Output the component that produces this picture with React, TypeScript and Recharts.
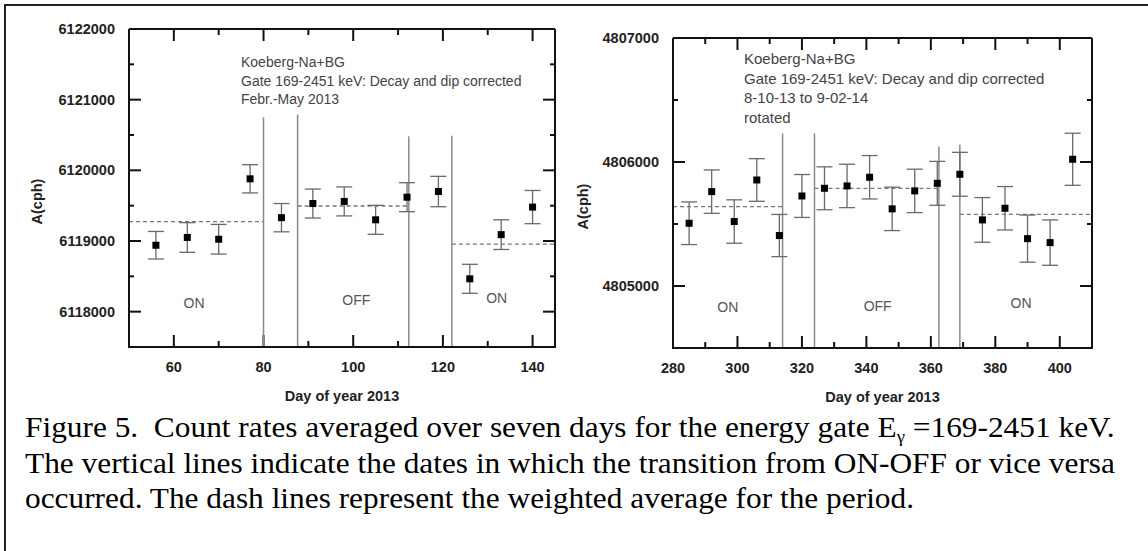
import React from "react";
import {
  ScatterChart,
  Scatter,
  XAxis,
  YAxis,
  ErrorBar,
  ReferenceLine,
  ReferenceDot,
  Label,
} from "recharts";

const SANS = "'Liberation Sans', Arial, sans-serif";
const SERIF = "'Liberation Serif', 'Times New Roman', serif";

// ---- left panel: Febr.-May 2013 ----
const LEFT_DAYS = [56, 63, 70, 77, 84, 91, 98, 105, 112, 119, 126, 133, 140];
const LEFT_RATES = [
  6118940, 6119050, 6119025, 6119880, 6119330, 6119530, 6119560, 6119300,
  6119620, 6119700, 6118465, 6119090, 6119480,
];
const LEFT_ERR = [195, 210, 210, 200, 200, 205, 205, 205, 205, 215, 205, 210, 235];
const LEFT_X_MAJOR = [60, 80, 100, 120, 140];
const LEFT_X_MINOR = [50, 70, 90, 110, 130];
const LEFT_Y_MAJOR = [6118000, 6119000, 6120000, 6121000, 6122000];
const LEFT_Y_MINOR = [6117500, 6118500, 6119500, 6120500, 6121500];
const LEFT_SWITCH_DAYS = [80, 87.6, 112.4, 122];
const LEFT_SWITCH_TOPS = [6120750, 6120790, 6120482, 6120490];
const LEFT_AVG_FROM = [50, 87.6, 122];
const LEFT_AVG_TO = [80, 112.4, 145];
const LEFT_AVG = [6119275, 6119495, 6118955];
const LEFT_STATES = ["ON", "OFF", "ON"];
const LEFT_STATE_DAYS = [64.5, 100.7, 132];
const LEFT_STATE_Y = [6118120, 6118170, 6118190];
const LEFT_NOTES = ["Koeberg-Na+BG", "Gate 169-2451 keV: Decay and dip corrected", "Febr.-May 2013"];

// ---- right panel: 8-10-13 to 9-02-14 ----
const RIGHT_DAYS = [285, 292, 299, 306, 313, 320, 327, 334, 341, 348, 355, 362, 369, 376, 383, 390, 397, 404];
const RIGHT_RATES = [
  4805506, 4805761, 4805520, 4805855, 4805407, 4805726, 4805788, 4805807, 4805877,
  4805622, 4805767, 4805828, 4805901, 4805533, 4805627, 4805382, 4805350, 4806022,
];
const RIGHT_ERR = [172, 175, 175, 172, 170, 173, 173, 175, 175, 175, 175, 177, 177, 180, 175, 190, 183, 210];
const RIGHT_X_MAJOR = [280, 300, 320, 340, 360, 380, 400];
const RIGHT_X_MINOR = [290, 310, 330, 350, 370, 390, 410];
const RIGHT_Y_MAJOR = [4805000, 4806000, 4807000];
const RIGHT_Y_MINOR = [4804500, 4805500, 4806500];
const RIGHT_SWITCH_DAYS = [314, 323.9, 362.5, 369];
const RIGHT_SWITCH_TOPS = [4806230, 4806230, 4806125, 4806140];
const RIGHT_AVG_FROM = [280, 323.9, 369];
const RIGHT_AVG_TO = [314, 362.5, 410];
const RIGHT_AVG = [4805640, 4805787, 4805578];
const RIGHT_STATES = ["ON", "OFF", "ON"];
const RIGHT_STATE_DAYS = [297, 343.5, 388];
const RIGHT_STATE_Y = [4804830, 4804835, 4804860];
const RIGHT_NOTES = ["Koeberg-Na+BG", "Gate 169-2451 keV: Decay and dip corrected", "8-10-13 to 9-02-14", "rotated"];

const CAPTION_LINES = [
  "The vertical lines indicate the dates in which the transition from ON-OFF or vice versa",
  "occurred. The dash lines represent the weighted average for the period.",
];

interface PanelProps {
  left: number;
  width: number;
  height: number;
  margin: { top: number; right: number; bottom: number; left: number };
  xDomain: [number, number];
  yDomain: [number, number];
  days: number[];
  rates: number[];
  errs: number[];
  xMajor: number[];
  xMinor: number[];
  yMajor: number[];
  yMinor: number[];
  switchDays: number[];
  switchTops: number[];
  avgFrom: number[];
  avgTo: number[];
  avg: number[];
  states: string[];
  stateDays: number[];
  stateY: number[];
  notes: string[];
  notesPos: { x: number; y: number; size: number; lh: number };
  yLabelDx: number;
}

const axisLine = { stroke: "#111", strokeWidth: 2 };

type Side = "bottom" | "left" | "right";

// inward tick mark drawn at the axis position (tickSize/tickMargin are 0),
// with an optional bold label outside the frame
const makeTick = (side: Side, len: number, withLabel: boolean) =>
  // eslint-disable-next-line @typescript-eslint/no-explicit-any
  (props: any) => {
    const x = Number(props.x);
    const y = Number(props.y);
    const { payload } = props;
    if (side === "bottom") {
      return (
        <text x={x} y={y + 20} textAnchor="middle" dominantBaseline="central" fontSize={14.5} fontWeight="bold" fill="#222" fontFamily={SANS}>
          {payload.value}
        </text>
      );
    }
    const x2 = side === "left" ? x + len : x - len;
    return (
      <g>
        <line x1={x} y1={y} x2={x2} y2={y} stroke="#111" strokeWidth={2} />
        {withLabel && (
          <text x={x - 14} y={y} textAnchor="end" dominantBaseline="central" fontSize={14.5} fontWeight="bold" fill="#222" fontFamily={SANS}>
            {payload.value}
          </text>
        )}
      </g>
    );
  };

const TICK_B = makeTick("bottom", 12, true);
const TICK_L = makeTick("left", 12, true);
const TICK_LM = makeTick("left", 6, false);
const TICK_R = makeTick("right", 12, false);
const TICK_RM = makeTick("right", 6, false);

// x ticks: short inward marks at both ends of a full-height reference line
const xTickShape = (len: number) =>
  // eslint-disable-next-line @typescript-eslint/no-explicit-any
  (props: any) => {
    const x = Number(props.x1);
    const top = Math.min(Number(props.y1), Number(props.y2));
    const bot = Math.max(Number(props.y1), Number(props.y2));
    return (
      <g>
        <line x1={x} y1={bot} x2={x} y2={bot - len} stroke="#111" strokeWidth={2} />
        <line x1={x} y1={top} x2={x} y2={top + len} stroke="#111" strokeWidth={2} />
      </g>
    );
  };
const X_TICK_MAJOR = xTickShape(12);
const X_TICK_MINOR = xTickShape(6);

// eslint-disable-next-line @typescript-eslint/no-explicit-any
const squareDot = (props: any) => {
  const { cx, cy } = props;
  if (cx == null || cy == null) return <g />;
  return <rect x={cx - 3.5} y={cy - 3.5} width={7} height={7} fill="#000" />;
};

function Panel(p: PanelProps) {
  const data = p.days.map((d, i) => ({ day: d, rate: p.rates[i], err: p.errs[i] }));
  const yMin = p.yDomain[0];
  const common = { type: "number" as const, allowDataOverflow: true, interval: 0 as const, tickSize: 0, tickMargin: 0, tickLine: false };
  return (
    <div style={{ position: "absolute", left: p.left, top: 0 }}>
      <ScatterChart width={p.width} height={p.height} margin={p.margin}>
        <XAxis xAxisId="b" dataKey="day" domain={p.xDomain} ticks={p.xMajor} height={1} axisLine={axisLine} tick={TICK_B} {...common}>
          <Label
            // eslint-disable-next-line @typescript-eslint/no-explicit-any
            content={({ viewBox }: any) => (
              <text
                x={viewBox.x + viewBox.width / 2}
                y={viewBox.y + 54}
                textAnchor="middle"
                fontSize={14.5}
                fontWeight="bold"
                fill="#222"
                fontFamily={SANS}
              >
                Day of year 2013
              </text>
            )}
          />
        </XAxis>
        <XAxis xAxisId="t" orientation="top" domain={p.xDomain} ticks={p.xMajor} height={1} axisLine={axisLine} tick={false} {...common} />
        <YAxis yAxisId="l" dataKey="rate" domain={p.yDomain} ticks={p.yMajor} width={1} axisLine={axisLine} tick={TICK_L} {...common}>
          <Label
            // eslint-disable-next-line @typescript-eslint/no-explicit-any
            content={({ viewBox }: any) => {
              const cx = viewBox.x + viewBox.width + p.yLabelDx;
              const cy = viewBox.y + viewBox.height / 2 + 13.5;
              return (
                <text
                  x={cx}
                  y={cy}
                  transform={`rotate(-90 ${cx} ${cy})`}
                  textAnchor="middle"
                  dominantBaseline="central"
                  fontSize={14.5}
                  fontWeight="bold"
                  fill="#222"
                  fontFamily={SANS}
                >
                  A(cph)
                </text>
              );
            }}
          />
        </YAxis>
        <YAxis yAxisId="lm" domain={p.yDomain} ticks={p.yMinor} width={1} axisLine={false} tick={TICK_LM} {...common} />
        <YAxis yAxisId="r" orientation="right" domain={p.yDomain} ticks={p.yMajor} width={1} axisLine={axisLine} tick={TICK_R} {...common} />
        <YAxis yAxisId="rm" orientation="right" domain={p.yDomain} ticks={p.yMinor} width={1} axisLine={false} tick={TICK_RM} {...common} />

        {p.xMajor.map((v) => (
          <ReferenceLine key={`xt-${v}`} xAxisId="b" yAxisId="l" x={v} shape={X_TICK_MAJOR} ifOverflow="extendDomain" />
        ))}
        {p.xMinor.map((v) => (
          <ReferenceLine key={`xm-${v}`} xAxisId="b" yAxisId="l" x={v} shape={X_TICK_MINOR} ifOverflow="extendDomain" />
        ))}

        {p.switchDays.map((d, i) => (
          <ReferenceLine
            key={`sw-${i}`}
            xAxisId="b"
            yAxisId="l"
            segment={[{ x: d, y: p.switchTops[i] }, { x: d, y: yMin }]}
            stroke="#8a8a8a"
            strokeWidth={1.5}
          />
        ))}
        {p.avg.map((v, i) => (
          <ReferenceLine
            key={`avg-${i}`}
            xAxisId="b"
            yAxisId="l"
            segment={[{ x: p.avgFrom[i], y: v }, { x: p.avgTo[i], y: v }]}
            stroke="#777"
            strokeWidth={1.3}
            strokeDasharray="4 3"
          />
        ))}
        {p.states.map((s, i) => (
          <ReferenceDot
            key={`st-${i}`}
            xAxisId="b"
            yAxisId="l"
            x={p.stateDays[i]}
            y={p.stateY[i]}
            r={1}
            fill="none"
            stroke="none"
            label={{ value: s, position: "center", fill: "#555", fontSize: 14, fontFamily: SANS }}
          />
        ))}

        <Scatter
          xAxisId="b"
          yAxisId="l"
          data={data}
          dataKey="rate"
          shape={squareDot}
          isAnimationActive={false}
        >
          <ErrorBar dataKey="err" direction="y" width={8} stroke="#6a6a6a" strokeWidth={1.3} isAnimationActive={false} />
        </Scatter>
      </ScatterChart>
      <div
        style={{
          position: "absolute",
          left: p.notesPos.x,
          top: p.notesPos.y,
          fontFamily: SANS,
          fontSize: p.notesPos.size,
          lineHeight: `${p.notesPos.lh}px`,
          color: "#444",
          whiteSpace: "nowrap",
        }}
      >
        {p.notes.map((n) => (
          <div key={n}>{n}</div>
        ))}
      </div>
    </div>
  );
}

export default function App() {
  return (
    <div
      style={{
        position: "absolute",
        left: 0,
        top: 0,
        width: 1148,
        height: 551,
        background: "#fff",
        overflow: "hidden",
      }}
    >
      <div
        style={{
          position: "absolute",
          left: 4,
          top: 4,
          width: 1150,
          height: 560,
          borderTop: "2px solid #222",
          borderLeft: "2px solid #222",
        }}
      />
      <Panel
        left={0}
        width={580}
        height={410}
        margin={{ top: 28, right: 23, bottom: 62, left: 127 }}
        xDomain={[50, 145]}
        yDomain={[6117500, 6122000]}
        days={LEFT_DAYS}
        rates={LEFT_RATES}
        errs={LEFT_ERR}
        xMajor={LEFT_X_MAJOR}
        xMinor={LEFT_X_MINOR}
        yMajor={LEFT_Y_MAJOR}
        yMinor={LEFT_Y_MINOR}
        switchDays={LEFT_SWITCH_DAYS}
        switchTops={LEFT_SWITCH_TOPS}
        avgFrom={LEFT_AVG_FROM}
        avgTo={LEFT_AVG_TO}
        avg={LEFT_AVG}
        states={LEFT_STATES}
        stateDays={LEFT_STATE_DAYS}
        stateY={LEFT_STATE_Y}
        notes={LEFT_NOTES}
        notesPos={{ x: 241, y: 53, size: 14, lh: 18.5 }}
        yLabelDx={-92}
      />
      <Panel
        left={560}
        width={588}
        height={410}
        margin={{ top: 37, right: 54, bottom: 61, left: 111 }}
        xDomain={[280, 410]}
        yDomain={[4804500, 4807000]}
        days={RIGHT_DAYS}
        rates={RIGHT_RATES}
        errs={RIGHT_ERR}
        xMajor={RIGHT_X_MAJOR}
        xMinor={RIGHT_X_MINOR}
        yMajor={RIGHT_Y_MAJOR}
        yMinor={RIGHT_Y_MINOR}
        switchDays={RIGHT_SWITCH_DAYS}
        switchTops={RIGHT_SWITCH_TOPS}
        avgFrom={RIGHT_AVG_FROM}
        avgTo={RIGHT_AVG_TO}
        avg={RIGHT_AVG}
        states={RIGHT_STATES}
        stateDays={RIGHT_STATE_DAYS}
        stateY={RIGHT_STATE_Y}
        notes={RIGHT_NOTES}
        notesPos={{ x: 184, y: 49, size: 15, lh: 19.7 }}
        yLabelDx={-90}
      />
      <div
        style={{
          position: "absolute",
          left: 25,
          top: 410,
          fontFamily: SERIF,
          fontSize: 28.5,
          lineHeight: "35.5px",
          color: "#000",
          whiteSpace: "nowrap",
          transform: "scaleX(1.1)",
          transformOrigin: "0 0",
        }}
      >
        <div>
          Figure 5.&nbsp; Count rates averaged over seven days for the energy gate E
          <sub style={{ fontSize: 17, lineHeight: 0, verticalAlign: "-5px" }}>γ</sub> =169-2451 keV.
        </div>
        {CAPTION_LINES.map((l) => (
          <div key={l}>{l}</div>
        ))}
      </div>
    </div>
  );
}
